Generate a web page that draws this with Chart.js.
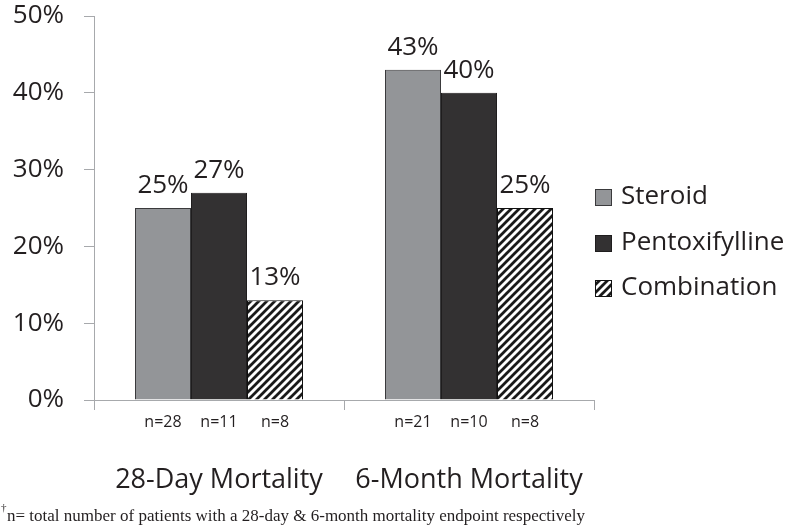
<!DOCTYPE html>
<html><head><meta charset="utf-8">
<script src="https://cdn.jsdelivr.net/npm/chart.js@4.4.0/dist/chart.umd.min.js"></script>
<style>html,body{margin:0;padding:0;background:#fff;overflow:hidden;} #wrap{width:791px;height:530px;position:relative;}</style>
</head><body><div id="wrap"><canvas id="c" width="791" height="530"></canvas></div>
<script>
const categories = ['28-Day Mortality', '6-Month Mortality'];
const seriesNames = ['Steroid', 'Pentoxifylline', 'Combination'];
const steroid = [25, 43];
const pentoxifylline = [27, 40];
const combination = [13, 25];
const steroidN = ['n=28', 'n=21'];
const pentoxifyllineN = ['n=11', 'n=10'];
const combinationN = ['n=8', 'n=8'];
const yTicks = [0, 10, 20, 30, 40, 50];
const footnote = 'n= total number of patients with a 28-day & 6-month mortality endpoint respectively';

const TEXT = '#231f20';
const AXIS = '#a7a9ac';
const SANS = '"Open Sans", "Noto Sans", sans-serif';

function makeHatch() {
  const s = 8;
  const c = document.createElement('canvas');
  c.width = s; c.height = s;
  const x = c.getContext('2d');
  x.fillStyle = '#ffffff'; x.fillRect(0, 0, s, s);
  x.strokeStyle = '#1a1a1a'; x.lineWidth = 2.8;
  x.beginPath();
  x.moveTo(-2, s + 2); x.lineTo(s + 2, -2);
  x.moveTo(-2, 2); x.lineTo(2, -2);
  x.moveTo(s - 2, s + 2); x.lineTo(s + 2, s - 2);
  x.stroke();
  return x.createPattern(c, 'repeat');
}
const hatch = makeHatch();

const extras = {
  id: 'extras',
  afterDatasetsDraw(chart) {
    const ctx = chart.ctx;
    const y0 = chart.scales.y.getPixelForValue(0);
    ctx.save();
    chart.data.datasets.forEach((ds, i) => {
      const meta = chart.getDatasetMeta(i);
      meta.data.forEach((bar, j) => {
        ctx.fillStyle = TEXT;
        ctx.textAlign = 'center';
        ctx.textBaseline = 'alphabetic';
        ctx.font = '26px ' + SANS;
        ctx.fillText(ds.data[j] + '%', bar.x, bar.y - 15);
        ctx.font = '16px ' + SANS;
        ctx.fillText(ds.nLabels[j], bar.x, y0 + 27);
      });
    });
    // legend
    const rows = [197, 243, 288];
    chart.data.datasets.forEach((ds, i) => {
      const cy = rows[i];
      ctx.fillStyle = ds.backgroundColor;
      ctx.fillRect(595, cy - 8, 16, 16);
      ctx.strokeStyle = ds.borderColor;
      ctx.lineWidth = 1;
      ctx.strokeRect(595.5, cy - 7.5, 16, 16);
      ctx.fillStyle = TEXT;
      ctx.textAlign = 'left';
      ctx.textBaseline = 'middle';
      ctx.font = '26px ' + SANS;
      ctx.fillText(ds.label, 621, cy);
    });
    // footnote
    ctx.fillStyle = TEXT;
    ctx.textAlign = 'left';
    ctx.textBaseline = 'alphabetic';
    ctx.font = '11px "Liberation Serif", serif';
    ctx.fillText('\u2020', 1, 511);
    ctx.font = '17px "Liberation Serif", serif';
    ctx.fillText(footnote, 7, 521);
    ctx.restore();
  }
};

new Chart(document.getElementById('c'), {
  type: 'bar',
  data: {
    labels: categories,
    datasets: [
      { label: seriesNames[0], data: steroid, nLabels: steroidN, backgroundColor: '#939598', borderColor: '#3a3a3c', borderWidth: 1 },
      { label: seriesNames[1], data: pentoxifylline, nLabels: pentoxifyllineN, backgroundColor: '#333132', borderColor: '#1f1d1e', borderWidth: 1 },
      { label: seriesNames[2], data: combination, nLabels: combinationN, backgroundColor: hatch, borderColor: '#111111', borderWidth: 1 }
    ]
  },
  options: {
    responsive: false,
    animation: false,
    events: [],
    datasets: { bar: { barPercentage: 1, categoryPercentage: 0.672 } },
    layout: { padding: { top: 16, right: 197, bottom: 0, left: 0 } },
    plugins: { legend: { display: false }, tooltip: { enabled: false } },
    scales: {
      x: {
        offset: true,
        grid: { display: true, drawOnChartArea: false, drawTicks: true, tickLength: 10, offset: true, color: AXIS },
        border: { display: true, color: AXIS, width: 1 },
        ticks: { font: { family: SANS, size: 27 }, color: TEXT, padding: 54, maxRotation: 0, autoSkip: false },
        afterFit(s) { s.height = 130; s.paddingLeft = 0; s.paddingRight = 0; }
      },
      y: {
        min: 0, max: 50,
        afterBuildTicks(s) { s.ticks = yTicks.map(v => ({ value: v })); },
        grid: { display: true, drawOnChartArea: false, drawTicks: true, tickLength: 10, color: AXIS },
        border: { display: true, color: AXIS, width: 1 },
        ticks: { font: { family: SANS, size: 26 }, color: TEXT, padding: 20, callback: v => v + '%' },
        afterFit(s) { s.width = 94; s.paddingTop = 0; s.paddingBottom = 0; }
      }
    }
  },
  plugins: [extras]
});
</script>
</body></html>
